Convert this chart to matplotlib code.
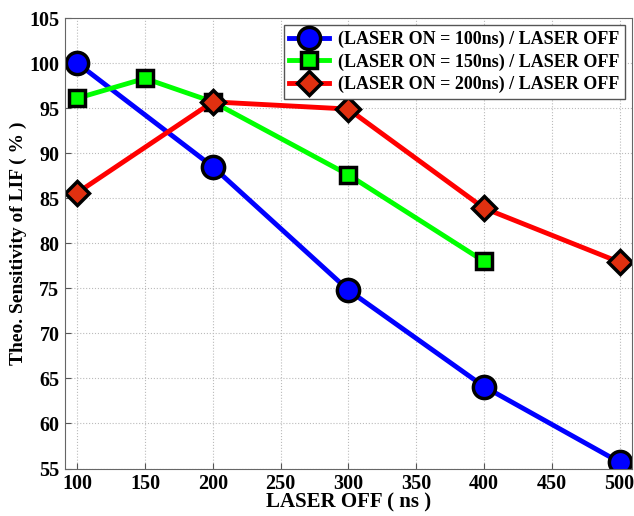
import matplotlib.pyplot as plt
import numpy as np

# data
x_off = [100, 200, 300, 400, 500]
y_100 = [100.0, 88.5, 74.8, 64.1, 55.7]

x_150 = [100, 150, 200, 300, 400]
y_150 = [96.1, 98.3, 95.7, 87.6, 78.0]

x_200 = [100, 200, 300, 400, 500]
y_200 = [85.6, 95.7, 94.9, 83.9, 77.9]

labels = ['(LASER ON = 100ns) / LASER OFF',
          '(LASER ON = 150ns) / LASER OFF',
          '(LASER ON = 200ns) / LASER OFF']

plt.rcParams['font.family'] = ['Liberation Serif', 'DejaVu Serif']
plt.rcParams['font.weight'] = 'bold'

fig = plt.figure(figsize=(6.34, 5.16), dpi=100)
ax = fig.add_axes([0.1025, 0.092, 0.894, 0.873])

ax.plot(x_off, y_100, '-o', color='#0000ff', lw=3.5, marker='o', ms=16,
        mfc='#0000ff', mec='black', mew=2.5, label=labels[0])
ax.plot(x_150, y_150, '-s', color='#00ff00', lw=3.5, ms=11.5,
        mfc='#00ff00', mec='black', mew=2.5, label=labels[1])
ax.plot(x_200, y_200, '-D', color='#ff0000', lw=3.5, ms=12.5,
        mfc='#e03010', mec='black', mew=2.5, label=labels[2])

ax.set_xlim(91, 509)
ax.set_ylim(55, 105)
ax.set_xticks(np.arange(100, 501, 50))
ax.set_yticks(np.arange(55, 106, 5))
ax.tick_params(direction='in', labelsize=14.5, length=4, color='#555555', pad=4)
for lab in ax.get_xticklabels() + ax.get_yticklabels():
    lab.set_fontweight('bold')
ax.grid(True, linestyle=':', color='#bbbbbb', lw=0.8)
for s in ax.spines.values():
    s.set_color('#666666')

ax.set_xlabel('LASER OFF ( ns )', fontsize=15, fontweight='bold', labelpad=-1)
ax.set_ylabel('Theo. Sensitivity of LIF ( % )', fontsize=14, fontweight='bold', labelpad=2)

leg = ax.legend(loc='upper right', prop={'weight': 'bold', 'size': 13},
                fancybox=False, edgecolor='#555555', framealpha=1,
                handlelength=2.2, borderpad=0.3, labelspacing=0.3,
                handletextpad=0.5, borderaxespad=0.4)
leg.get_frame().set_linewidth(1.0)

fig.savefig('out.png', dpi=100)
